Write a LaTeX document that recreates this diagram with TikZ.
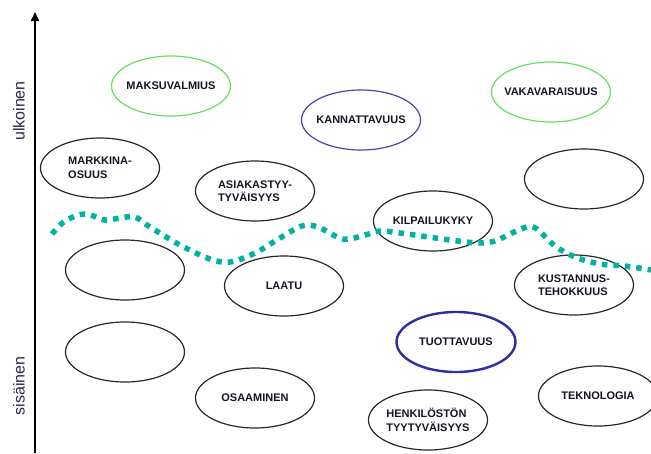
\documentclass[tikz,border=0pt]{standalone}
\usepackage{fontspec}
\setmainfont{Liberation Sans}
\usetikzlibrary{shapes.geometric,arrows.meta}
\definecolor{wave}{RGB}{0,178,160}
\definecolor{okgreen}{RGB}{100,222,100}
\definecolor{navyline}{RGB}{70,70,165}
\definecolor{deepnavy}{RGB}{45,45,165}
\definecolor{txt}{RGB}{20,20,35}
\definecolor{ovalgray}{RGB}{40,40,40}
\definecolor{axtxt}{RGB}{40,40,70}
\tikzset{
  oval/.style={ellipse, draw=ovalgray, line width=1.2pt, minimum width=119pt,
    minimum height=60pt, inner xsep=-10pt, inner ysep=0pt, align=left, text=txt,
    font=\bfseries\fontsize{11}{13.5}\selectfont},
  greenoval/.style={oval, draw=okgreen},
  blueoval/.style={oval, draw=navyline},
  strongoval/.style={oval, draw=deepnavy, line width=2.4pt},
  axislabel/.style={rotate=90, text=axtxt, font=\fontsize{16}{16}\selectfont},
  wavyline/.style={wave, line width=5.5pt, dash pattern=on 5.5pt off 6pt}
}
\begin{document}
\begin{tikzpicture}[x=1pt,y=-1pt]
\useasboundingbox (0,0) rectangle (651,453);
% axis
\coordinate (axbot) at (35,453);
\coordinate (axtop) at (35,12);
\draw[line width=2pt, -{Triangle[length=9pt,width=8pt]}] (axbot) -- (axtop);
\node[axislabel] (ulk) at (19,111) {ulkoinen};
\node[axislabel] (sis) at (19,386) {sisäinen};
% ellipses
\node[greenoval] (maksu) at (171,86) {MAKSUVALMIUS};
\node[blueoval] (kann) at (361,120) {KANNATTAVUUS};
\node[greenoval] (vaka) at (551,92) {VAKAVARAISUUS};
\node[oval] (markk) at (100,168) {MARKKINA-\\OSUUS};
\node[oval] (asiak) at (255,191) {ASIAKASTYY-\\TYVÄISYYS};
\node[oval] (kilp) at (433,221) {KILPAILUKYKY};
\node[oval] (empR) at (584,179) {};
\node[oval] (empL1) at (125,270) {};
\node[oval] (laatu) at (284,286) {LAATU};
\node[oval] (kust) at (574,285) {KUSTANNUS-\\TEHOKKUUS};
\node[oval] (empL2) at (125,352) {};
\node[strongoval] (tuott) at (456,342) {TUOTTAVUUS};
\node[oval] (osaa) at (255,398) {OSAAMINEN};
\node[oval] (henk) at (428,420) {HENKILÖSTÖN\\TYYTYVÄISYYS};
\node[oval] (tekn) at (598,396) {TEKNOLOGIA};
% wavy boundary
\draw[wavyline] plot[smooth, tension=0.55] coordinates {
 (52,234) (65,221) (85,214) (105,220) (120,218) (135,217) (150,227)
 (180,245) (210,259) (230,262) (255,253) (280,238) (302,226) (318,227)
 (343,239) (365,235) (380,231) (400,233) (450,240) (478,243) (495,241)
 (512,233) (527,227) (537,229) (555,246) (575,257) (600,264) (625,266) (651,270)};
\end{tikzpicture}
\end{document}
